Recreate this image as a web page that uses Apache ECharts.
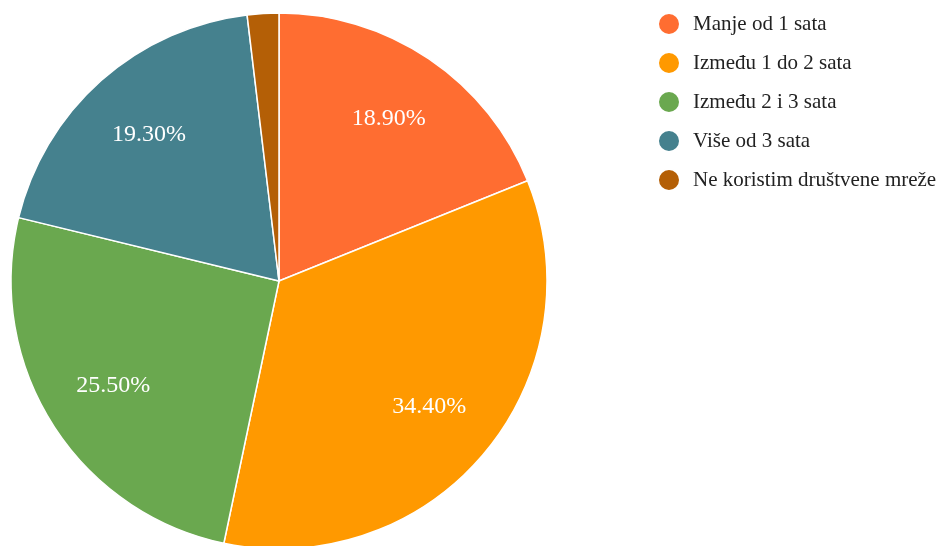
<!DOCTYPE html>
<html><head><meta charset="utf-8">
<script src="https://cdn.jsdelivr.net/npm/echarts@6/dist/echarts.min.js"></script>
<style>html,body{margin:0;padding:0;background:#fff}#c{width:944px;height:546px}</style>
</head><body><div id="c"></div>
<script>
const categories = ['Manje od 1 sata','Između 1 do 2 sata','Između 2 i 3 sata','Više od 3 sata','Ne koristim društvene mreže'];
const values = [18.9, 34.4, 25.5, 19.3, 1.9];
const colors = ['#ff6d31','#ff9900','#6aa84f','#45818e','#b45f06'];

const data = categories.map((n,i)=>({name:n, value:values[i]}));
const chart = echarts.init(document.getElementById('c'));
chart.setOption({
  animation:false,
  color: colors,
  legend:{
    orient:'vertical', left:657, top:12, padding:0, icon:'circle',
    itemWidth:22, itemHeight:22, itemGap:15,
    textStyle:{fontFamily:'Liberation Serif', fontSize:21, lineHeight:22, color:'#222', padding:[0,0,0,8]},
    data: categories
  },
  series:[{
    type:'pie', center:[279,281], radius:[0,268], startAngle:90, clockwise:true,
    itemStyle:{borderColor:'#fff', borderWidth:1.5},
    label:{show:false}, labelLine:{show:false},
    emphasis:{disabled:true},
    data: data
  },{
    type:'pie', center:[279,281], radius:[118,268], startAngle:90, clockwise:true,
    silent:true,
    itemStyle:{color:'transparent'},
    label:{show:true, position:'inside', fontFamily:'Liberation Serif', fontSize:24, color:'#fff',
      formatter:p=> p.value < 5 ? '' : p.value.toFixed(2)+'%'},
    labelLine:{show:false},
    emphasis:{disabled:true},
    data: data
  }]
});
</script></body></html>
